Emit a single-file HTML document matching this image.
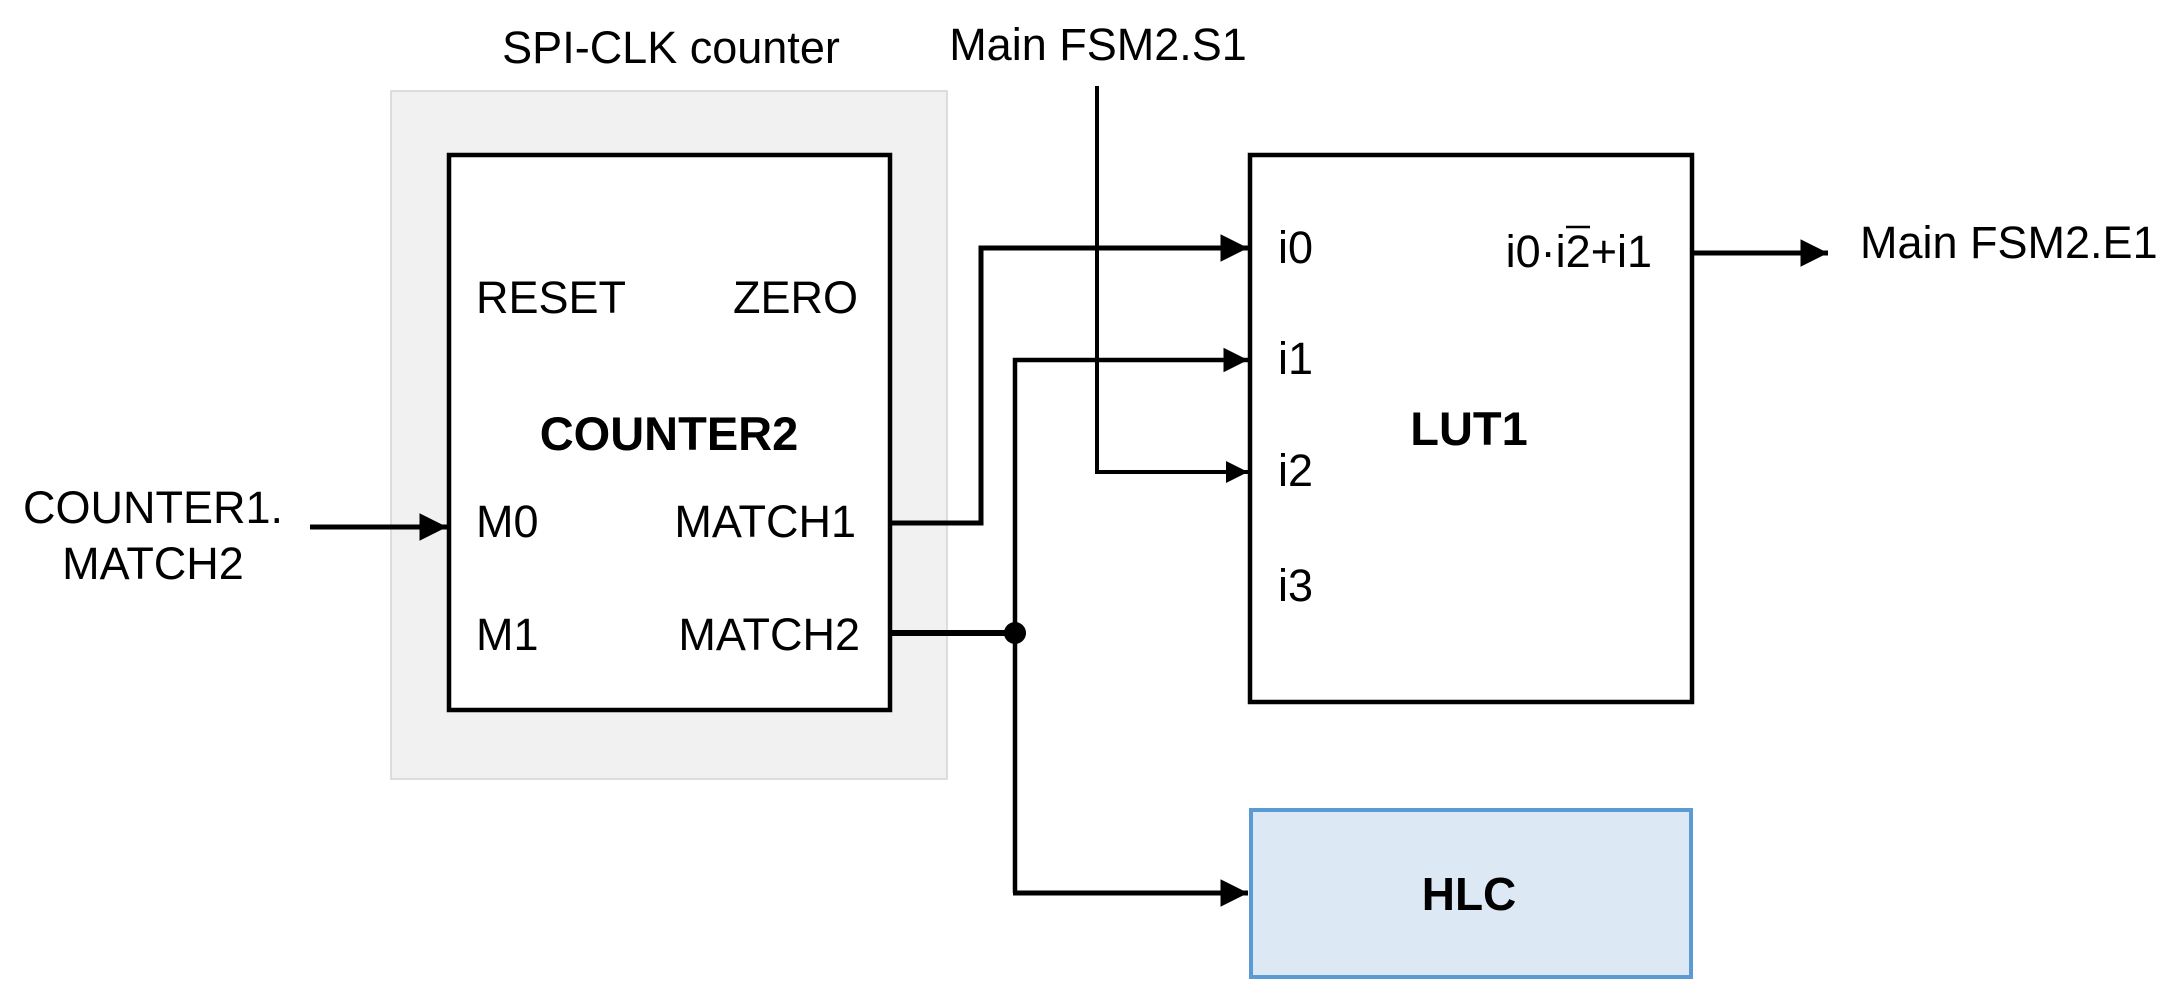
<!DOCTYPE html>
<html><head><meta charset="utf-8"><style>
html,body{margin:0;padding:0;background:#fff;}
svg{display:block;}
text{font-family:"Liberation Sans",Arial,sans-serif;fill:#000;}
</style></head><body>
<svg width="2170" height="1001" viewBox="0 0 2170 1001" xmlns="http://www.w3.org/2000/svg">
<defs>
<marker id="ah" viewBox="0 0 10 10" refX="10" refY="5" markerWidth="5.5" markerHeight="6" markerUnits="strokeWidth" orient="auto">
<path d="M0,0 L10,5 L0,10 z" fill="#000"/>
</marker>
</defs>
<rect x="391" y="91" width="556" height="688" fill="#f1f1f1" stroke="#d4d4d4" stroke-width="1.5"/>
<text x="671" y="63" font-size="45" text-anchor="middle">SPI-CLK counter</text>
<rect x="449" y="155" width="441" height="555" fill="#fff" stroke="#000" stroke-width="4.5"/>
<text x="476" y="313" font-size="45">RESET</text>
<text x="858" y="313" font-size="45" text-anchor="end">ZERO</text>
<text x="669" y="450" font-size="47" font-weight="bold" text-anchor="middle">COUNTER2</text>
<text x="476" y="537" font-size="45">M0</text>
<text x="856" y="537" font-size="45" text-anchor="end">MATCH1</text>
<text x="476" y="650" font-size="45">M1</text>
<text x="860" y="650" font-size="45" text-anchor="end">MATCH2</text>
<text x="153" y="523" font-size="45" text-anchor="middle">COUNTER1.</text>
<text x="153" y="579" font-size="45" text-anchor="middle">MATCH2</text>
<line x1="310" y1="527" x2="447" y2="527" stroke="#000" stroke-width="5" marker-end="url(#ah)"/>
<rect x="1250" y="155" width="442" height="547" fill="#fff" stroke="#000" stroke-width="4.5"/>
<text x="1278" y="263" font-size="45">i0</text>
<text x="1278" y="374" font-size="45">i1</text>
<text x="1278" y="486" font-size="45">i2</text>
<text x="1278" y="601" font-size="45">i3</text>
<text x="1469" y="445" font-size="47" font-weight="bold" text-anchor="middle">LUT1</text>
<text x="1652" y="267" font-size="45" text-anchor="end">i0·i2+i1</text>
<line x1="1566" y1="227" x2="1590" y2="227" stroke="#000" stroke-width="2.5"/>
<text x="1098" y="60" font-size="45" text-anchor="middle">Main FSM2.S1</text>
<polyline points="1097,86 1097,472 1248,472" fill="none" stroke="#000" stroke-width="4" marker-end="url(#ah)"/>
<polyline points="890,523 981,523 981,248 1248,248" fill="none" stroke="#000" stroke-width="5" marker-end="url(#ah)"/>
<line x1="890" y1="633" x2="1015" y2="633" stroke="#000" stroke-width="6"/>
<polyline points="1015,893 1015,360 1248,360" fill="none" stroke="#000" stroke-width="4.5" marker-end="url(#ah)"/>
<line x1="1013" y1="893" x2="1248" y2="893" stroke="#000" stroke-width="5" marker-end="url(#ah)"/>
<circle cx="1015" cy="633" r="11" fill="#000"/>
<line x1="1692" y1="253" x2="1828" y2="253" stroke="#000" stroke-width="5" marker-end="url(#ah)"/>
<text x="1860" y="258" font-size="45">Main FSM2.E1</text>
<rect x="1251" y="810" width="440" height="167" fill="#dde8f5" stroke="#5b9bd5" stroke-width="4"/>
<text x="1469" y="910" font-size="46" font-weight="bold" text-anchor="middle">HLC</text>
</svg>
</body></html>
